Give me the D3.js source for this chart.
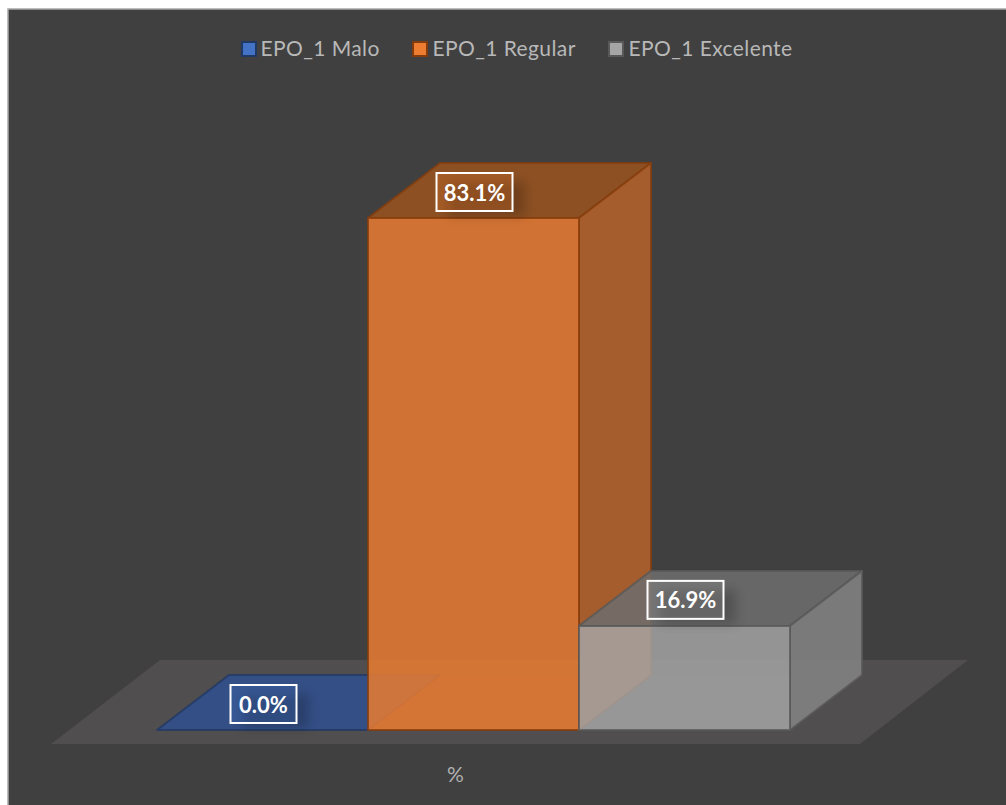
<!DOCTYPE html>
<html>
<head>
<meta charset="utf-8">
<script src="https://cdn.jsdelivr.net/npm/d3@7"></script>
<style>
  html, body { margin: 0; padding: 0; background: #fff; overflow: hidden; }
  text { font-family: Lato, sans-serif; }
</style>
</head>
<body>
<svg id="chart" width="1006" height="805" style="display:block"></svg>
<script>
// values
const categories = ["EPO_1 Malo", "EPO_1 Regular", "EPO_1 Excelente"];
const values = [0.0, 83.1, 16.9];
const labels = ["0.0%", "83.1%", "16.9%"];
const axisLabel = "%";

const fills = ["#4472c4", "#ed7d31", "#a5a5a5"];
const edges = ["#203864", "#843c0c", "#595959"];
const topFills = ["#2f5090", "#96521f", "#6c6c6c"];
const sideFills = ["#2f5090", "#b5622a", "#828282"];

const svg = d3.select("#chart");
const defs = svg.append("defs");
defs.append("filter").attr("id", "blur")
    .attr("x", "-30%").attr("y", "-40%").attr("width", "160%").attr("height", "180%")
  .append("feGaussianBlur").attr("stdDeviation", 5.5);

// chart area, runs off the right and bottom of the picture
svg.append("rect").attr("x", 8).attr("y", 9).attr("width", 1010).attr("height", 810)
    .attr("fill", "#404040").attr("stroke", "#a6a6a6").attr("stroke-width", 1.5);

// scales, the front face of each bar sits in one band
const x = d3.scaleBand().domain(categories).range([157, 790]);
const y = d3.scaleLinear().domain([0, 83.1]).range([730, 218]);
const depthX = 72, depthY = -55;

const line = d3.line();

// floor
const floorY = y(0) + 14;
svg.append("path")
    .attr("d", line([[51, floorY], [860, floorY], [968, floorY - 84], [160, floorY - 84]]) + "Z")
    .attr("fill", "#504e4e");

function box(d, i) {
  const x0 = x(d), x1 = x0 + x.bandwidth();
  const y0 = y(0), y1 = y(values[i]);
  return {
    bottom: [[x0, y0], [x1, y0], [x1 + depthX, y0 + depthY], [x0 + depthX, y0 + depthY]],
    back: [[x0 + depthX, y0 + depthY], [x1 + depthX, y0 + depthY], [x1 + depthX, y1 + depthY], [x0 + depthX, y1 + depthY]],
    left: [[x0, y0], [x0 + depthX, y0 + depthY], [x0 + depthX, y1 + depthY], [x0, y1]],
    top: [[x0, y1], [x1, y1], [x1 + depthX, y1 + depthY], [x0 + depthX, y1 + depthY]],
    right: [[x1, y0], [x1 + depthX, y0 + depthY], [x1 + depthX, y1 + depthY], [x1, y1]],
    front: [[x0, y0], [x1, y0], [x1, y1], [x0, y1]]
  };
}

// face name, opacity
const faces = [
  ["bottom", 0.12], ["back", 0.1], ["left", 0.1],
  ["top", 0.85], ["right", 0.85], ["front", 0.82]
];

function faceColor(name, i) {
  if (name === "top") return topFills[i];
  if (name === "right") return sideFills[i];
  return fills[i];
}

// bars, the taller orange one has to cover the blue one
const bars = svg.append("g").selectAll("g")
    .data(categories)
    .join("g");

bars.each(function(d, i) {
  const b = box(d, i);
  const g = d3.select(this);
  faces.forEach(function(f) {
    if (values[i] === 0 && f[0] !== "top") return;
    g.append("path")
        .attr("d", line(b[f[0]]) + "Z")
        .attr("fill", faceColor(f[0], i))
        .attr("fill-opacity", f[1])
        .attr("stroke", ["top", "right", "front"].includes(f[0]) ? edges[i] : "none")
        .attr("stroke-opacity", 0.8)
        .attr("stroke-width", 2)
        .attr("stroke-linejoin", "round");
  });
});

// data labels
const lab = svg.append("g").selectAll("g")
    .data(categories)
    .join("g")
    .attr("transform", (d, i) => "translate(" + (x(d) + x.bandwidth() / 2 + 1) + "," + (y(values[i]) - 26) + ")");

const boxW = (d, i) => i === 0 ? 66 : 76;

lab.append("rect")
    .attr("x", (d, i) => -boxW(d, i) / 2 + 12).attr("y", -10)
    .attr("width", boxW).attr("height", 34)
    .attr("fill", "#000").attr("opacity", 0.2).attr("filter", "url(#blur)");
lab.append("rect")
    .attr("x", (d, i) => -boxW(d, i) / 2).attr("y", -19)
    .attr("width", boxW).attr("height", 38)
    .attr("fill", (d, i) => fills[i]).attr("fill-opacity", 0.25)
    .attr("stroke", "#fff").attr("stroke-width", 2);
lab.append("text")
    .attr("text-anchor", "middle").attr("dy", 8.5)
    .attr("fill", "#fff").attr("font-size", 22).attr("font-weight", 700)
    .text((d, i) => labels[i]);

// legend
const legendX = [242, 413, 609];
const legend = svg.append("g").selectAll("g")
    .data(categories)
    .join("g")
    .attr("transform", (d, i) => "translate(" + legendX[i] + ",49)");
legend.append("rect")
    .attr("x", 0).attr("y", -7).attr("width", 14).attr("height", 14)
    .attr("fill", (d, i) => fills[i]).attr("stroke", (d, i) => edges[i]).attr("stroke-width", 2);
legend.append("text")
    .attr("x", (d, i) => [18.5, 19.5, 19.5][i]).attr("dy", 7)
    .attr("fill", "#b8b8b8").attr("font-size", 21).attr("letter-spacing", 0.4)
    .text(d => d);

// category axis label
svg.append("text")
    .attr("x", 455.5).attr("y", 782)
    .attr("text-anchor", "middle")
    .attr("fill", "#b0b0b0").attr("font-size", 21)
    .text(axisLabel);
</script>
</body>
</html>
